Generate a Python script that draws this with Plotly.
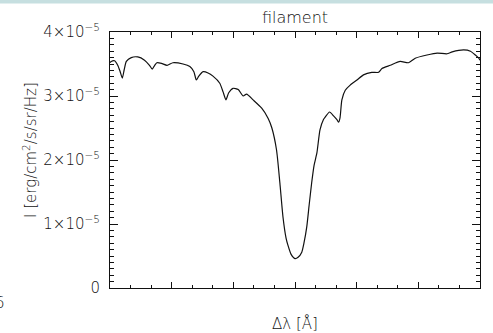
import plotly.graph_objects as go

# Wavelength offset from line centre (Angstrom) and specific intensity (erg/cm^2/s/sr/Hz)
delta_lambda = [
    -6.00, -5.96, -5.85, -5.75, -5.67, -5.60, -5.54, -5.47, -5.31, -5.10,
    -4.88, -4.72, -4.63, -4.55, -4.48, -4.33, -4.15, -3.96, -3.63, -3.41,
    -3.28, -3.20, -3.12, -2.98, -2.82, -2.66, -2.44, -2.33, -2.24, -2.15,
    -2.01, -1.84, -1.68, -1.57, -1.36, -1.08, -0.87, -0.75, -0.60, -0.49,
    -0.39, -0.29, -0.23, -0.13, 0.00, 0.10, 0.22, 0.29, 0.38, 0.46,
    0.54, 0.62, 0.71, 0.81, 0.92, 0.98, 1.12, 1.25, 1.36, 1.41,
    1.46, 1.52, 1.63, 1.79, 2.01, 2.22, 2.49, 2.71, 2.82, 3.09,
    3.41, 3.68, 3.90, 4.28, 4.61, 4.93, 5.10, 5.47, 5.69, 5.85,
    5.96, 6.00,
]
intensity_e5 = [
    3.52, 3.54, 3.55, 3.48, 3.38, 3.28, 3.41, 3.54, 3.60, 3.61,
    3.56, 3.48, 3.42, 3.48, 3.52, 3.51, 3.48, 3.52, 3.50, 3.46,
    3.38, 3.25, 3.31, 3.38, 3.36, 3.31, 3.20, 3.06, 2.94, 3.05,
    3.12, 3.10, 3.00, 3.03, 2.94, 2.81, 2.65, 2.50, 2.16, 1.64,
    1.11, 0.78, 0.67, 0.53, 0.46, 0.48, 0.56, 0.70, 0.95, 1.30,
    1.64, 1.92, 2.11, 2.47, 2.63, 2.67, 2.75, 2.69, 2.63, 2.59,
    2.66, 2.94, 3.09, 3.17, 3.25, 3.33, 3.37, 3.37, 3.43, 3.48,
    3.54, 3.52, 3.59, 3.64, 3.67, 3.66, 3.69, 3.72, 3.70, 3.64,
    3.59, 3.56,
]
intensity = [v * 1e-5 for v in intensity_e5]

x_ticks = [-6, -4, -2, 0, 2, 4, 6]
x_tick_text = ["−6", "−4", "−2", "0", "2", "4", "6"]
y_ticks = [0, 1e-5, 2e-5, 3e-5, 4e-5]
y_tick_text = ["0", "1×10<sup>−5</sup>", "2×10<sup>−5</sup>",
               "3×10<sup>−5</sup>", "4×10<sup>−5</sup>"]

FONT = "DejaVu Sans"
W = 200
TXT = "#111111"
AX = "#111111"

# plot-area geometry in pixels (used to place the free-standing labels)
L, R, T, B = 110, 13, 32, 45
PW, PH = 493 - L - R, 333 - T - B
Y_MAX = 4e-5


def px_x(px):
    return (px - L) / PW


def px_y(py):
    return (333 - B - py) / PH


fig = go.Figure()
fig.add_trace(go.Scatter(
    x=delta_lambda, y=intensity, mode="lines",
    line=dict(color="#111111", width=1.2, shape="spline", smoothing=0.6),
    hoverinfo="skip", showlegend=False,
))

# x tick labels as a text layer sitting on the x scale, just under the axis
fig.add_trace(go.Scatter(
    x=x_ticks, y=[px_y(304) * Y_MAX] * len(x_ticks), mode="text",
    text=x_tick_text, textposition="middle center", cliponaxis=False,
    textfont=dict(family=FONT, size=15, color=TXT, weight=W),
    hoverinfo="skip", showlegend=False,
))

fig.update_layout(
    width=493, height=333,
    margin=dict(l=L, r=R, t=T, b=B),
    paper_bgcolor="white", plot_bgcolor="white",
    font=dict(family=FONT, color=TXT, size=13, weight=W),
    title=dict(text="filament", x=0.5, xref="paper", xanchor="center",
               y=1 - 17 / 333, yanchor="middle",
               font=dict(family=FONT, size=16, color=TXT, weight=W)),
    showlegend=False,
)

fig.update_xaxes(
    range=[-6, 6], tickmode="array", tickvals=x_ticks, showticklabels=False,
    ticks="inside", ticklen=6, tickwidth=1, tickcolor=AX,
    minor=dict(tickmode="linear", tick0=-6, dtick=2 / 3, ticks="inside",
               ticklen=3, tickwidth=1, tickcolor=AX, showgrid=False),
    showline=True, linecolor=AX, linewidth=1, mirror="ticks",
    showgrid=False, zeroline=False,
)

fig.update_yaxes(
    range=[0, Y_MAX], tickmode="array", tickvals=y_ticks, ticktext=y_tick_text,
    ticks="inside", ticklen=8, tickwidth=1, tickcolor=AX,
    minor=dict(tickmode="linear", tick0=0, dtick=1e-6, ticks="inside",
               ticklen=4, tickwidth=1, tickcolor=AX, showgrid=False),
    showline=True, linecolor=AX, linewidth=1, mirror="ticks",
    showgrid=False, zeroline=False, ticklabelstandoff=6,
    tickfont=dict(family=FONT, size=15, color=TXT, weight=W),
)

# Axis titles
fig.add_annotation(text="Δλ [Å]", xref="paper", yref="paper",
                   x=0.5, y=px_y(323), xanchor="center", yanchor="middle",
                   showarrow=False,
                   font=dict(family=FONT, size=15, color=TXT, weight=W))
fig.add_annotation(text="I [erg/cm<sup>2</sup>/s/sr/Hz]", xref="paper", yref="paper",
                   x=px_x(30), y=px_y(150), xanchor="center", yanchor="middle",
                   textangle=-90, showarrow=False,
                   font=dict(family=FONT, size=15, color=TXT, weight=W))

# Thin coloured strip along the top edge of the page
fig.add_shape(type="rect", xref="paper", yref="paper",
              x0=-0.4, x1=1.1, y0=px_y(3.5), y1=px_y(-2),
              fillcolor="#c6dfe0", line=dict(width=0), layer="above")

# Edge of the neighbouring panel's axis label
fig.add_annotation(text="6", xref="paper", yref="paper",
                   x=px_x(7), y=px_y(303),
                   xanchor="right", yanchor="middle", showarrow=False,
                   font=dict(family=FONT, size=15, color=TXT, weight=W))

fig.write_html("out.html")
